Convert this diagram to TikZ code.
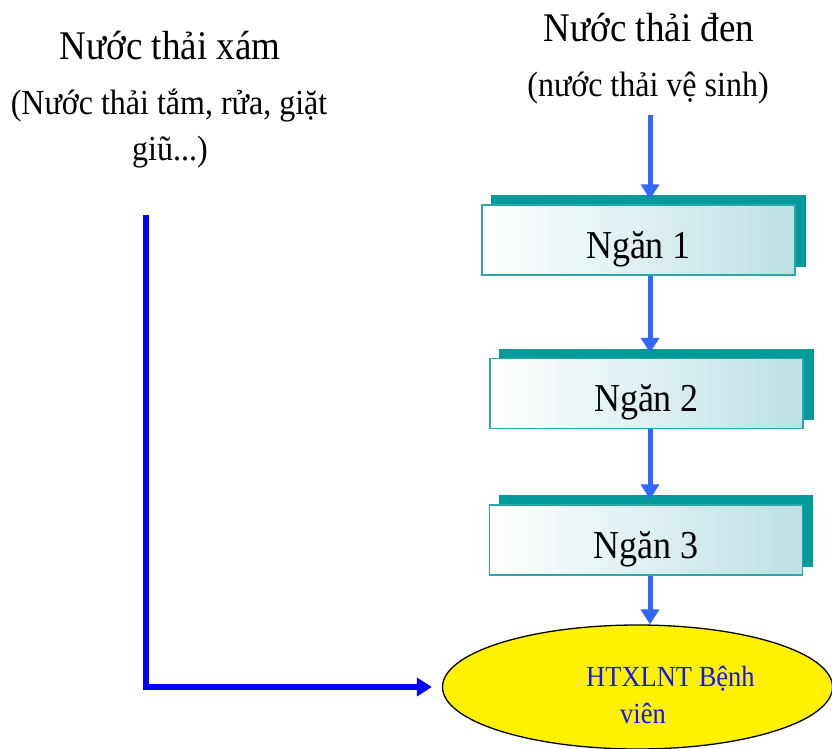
\documentclass[tikz,border=0pt]{standalone}
\usepackage{fontspec}
\setmainfont{Liberation Serif}
\usetikzlibrary{arrows.meta,shapes.geometric,shadows}
\definecolor{tealsh}{RGB}{0,154,154}
\definecolor{tealbd}{RGB}{40,168,168}
\definecolor{tealfill}{RGB}{188,224,228}
\definecolor{arrblue}{RGB}{51,102,255}
\definecolor{lineblue}{RGB}{0,0,255}
\definecolor{txtblue}{RGB}{20,20,255}
\newcommand{\tallt}[1]{\scalebox{1}[1.1]{#1}}
\begin{document}
\begin{tikzpicture}[x=1pt,y=-1pt,
  ttl/.style={anchor=base,inner sep=0pt,font=\fontsize{37}{40}\selectfont},
  sub/.style={anchor=base,inner sep=0pt,font=\fontsize{32}{36}\selectfont},
  ngan/.style={draw=tealbd,line width=1.5pt,left color=white,right color=tealfill,
    minimum width=313pt,minimum height=70pt,inner sep=0pt,text height=40pt,text depth=4pt,
    font=\fontsize{36}{40}\selectfont,
    copy shadow={shadow xshift=10pt,shadow yshift=9pt,fill=tealsh,draw=tealsh}},
  arr/.style={draw=arrblue,line width=5pt,-{Triangle[length=15pt,width=18pt]}},
  barr/.style={draw=lineblue,line width=5.5pt,-{Triangle[length=15pt,width=18pt]}},
  etxt/.style={anchor=base west,inner sep=0pt,text=txtblue,font=\fontsize{26.5}{30}\selectfont}]
\useasboundingbox (0,0) rectangle (832,749);
\clip (0,0) rectangle (832,749);
\fill[white] (0,0) rectangle (832,749);
% left titles
\node[ttl] (t1) at (170,60) {\tallt{Nước thải xám}};
\node[sub] (t2) at (169,115) {\tallt{(Nước thải tắm, rửa, giặt}};
\node[sub] (t3) at (170,160) {\tallt{giũ...)}};
% right titles
\node[ttl] (r1) at (649,42) {\tallt{Nước thải đen}};
\node[sub] (r2) at (648,97) {\tallt{(nước thải vệ sinh)}};
% boxes
\node[ngan] (b1) at (638.5,240) {\tallt{Ngăn 1}};
\node[ngan] (b2) at (646.5,393.5) {\tallt{Ngăn 2}};
\node[ngan] (b3) at (646,540) {\tallt{Ngăn 3}};
% ellipse
\node[ellipse,draw=black,line width=1.3pt,fill=yellow,minimum width=390pt,minimum height=124pt] (e) at (637.5,687) {};
\node[etxt] (e1) at (586,686) {\tallt{HTXLNT Bệnh}};
\node[etxt] (e2) at (620,723) {\tallt{viên}};
% arrows
\coordinate (top) at (650,115);
\coordinate (g) at (146,215);
\draw[arr] (top) -- ([yshift=5pt]b1.north -| top);
\draw[arr] (b1.south -| top) -- ([yshift=5pt]b2.north -| top);
\draw[arr] (b2.south -| top) -- ([yshift=5pt]b3.north -| top);
\draw[arr] (b3.south -| top) -- (e.north -| top);
\draw[barr] (g) |- ([xshift=-10pt]e.west);
\end{tikzpicture}
\end{document}
